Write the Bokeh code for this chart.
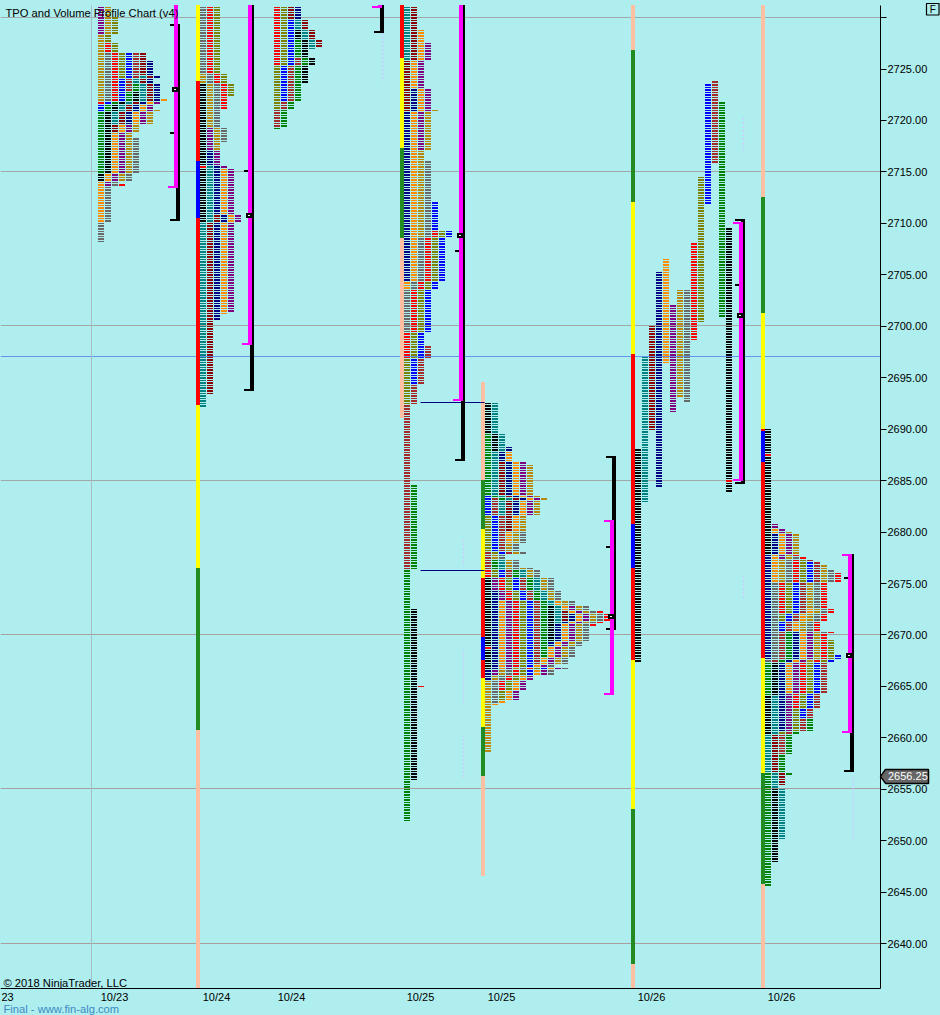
import math
from bokeh.plotting import figure
from bokeh.embed import file_html
from bokeh.resources import INLINE
from bokeh.models import ColumnDataSource, FixedTicker, Label, LinearAxis, Range1d

# ---- period letters -> colours
PERIOD_COLORS = {"K": "#000000", "T": "#008080", "R": "#8B0000", "N": "#000080", "O": "#FF8C00",
                 "P": "#800080", "G": "#B8860B", "Y": "#696969", "D": "#FF0000", "L": "#808000",
                 "B": "#0000FF", "W": "#A52A2A", "E": "#008000"}
BAR_COLORS = {"y": "#FFFF00", "r": "#FF0000", "b": "#0000FF", "g": "#228B22", "s": "#FFBFA3"}

# ---- TPO periods of every session (period, high, low)
A_PERIODS = "P G Y D L B W E K T R N O P G Y D".split()
A_HIGH = [2732, 2732, 2726.5, 2727.5, 2730, 2726.5, 2726.5, 2723.5, 2722.75, 2724.25, 2726.5, 2725.75, 2722, 2721.75, 2721, 2718.25, 2713.75]
A_LOW = [2728.5, 2722, 2722, 2721.75, 2724.25, 2721, 2723, 2715, 2714.25, 2719.75, 2719, 2719.75, 2710.25, 2713.75, 2714.25, 2708.25, 2713.75]

B_PERIODS = "K D K T R N O P G Y D L".split()
B_HIGH = [2723.5, 2715.5, 2715.25, 2715.5, 2710.75, 2717, 2715.25, 2719.25, 2724.5, 2732, 2732, 2732]
B_LOW = [2715.75, 2715.5, 2710.25, 2692.25, 2693.5, 2700.75, 2701.25, 2701.5, 2717.25, 2718, 2721.25, 2722.5]

C_PERIODS = "D L B W E K T R N".split()
C_HIGH = [2732, 2732, 2729.75, 2726, 2727.75, 2728.75, 2729.75, 2732, 2732]
C_LOW = [2725.5, 2721.25, 2722, 2719.5, 2719.25, 2723.75, 2727, 2727.25, 2730]

D_PERIODS = "T R N O P G Y D L B W E K D".split()
D_HIGH = [2732, 2732, 2723, 2728.75, 2727.5, 2721, 2716, 2709.25, 2709.25, 2712, 2698, 2684.5, 2672.5, 2665]
D_LOW = [2726, 2721, 2704.5, 2703.75, 2717.25, 2708.75, 2699.5, 2697, 2692.5, 2694.5, 2676.5, 2652, 2656, 2665]

E_PERIODS = "K D K N O P G Y D L B W E K T R N O P G Y D L B W E K T R N O P G Y".split()
E_HIGH = [2675.5, 2668.75, 2668.5, 2674.25, 2673.25, 2675.5, 2666.75, 2666.75, 2676.25, 2676.25, 2676.25, 2678, 2677.25,
          2672.75, 2677.25, 2672.25, 2672, 2673.25, 2672.75, 2676.5, 2676.5, 2672.25, 2681.5, 2683.5, 2683.25, 2689.5,
          2692.5, 2692.5, 2686.75, 2688.25, 2687.75, 2686.75, 2686.5, 2680]
E_LOW = [2669, 2668.75, 2666.75, 2665.75, 2666.75, 2666.25, 2658.75, 2663.5, 2664.75, 2663.75, 2666.25, 2667.25, 2668,
         2669.5, 2671.25, 2671.5, 2669, 2663.25, 2663.75, 2667.25, 2666.25, 2671, 2678, 2678, 2678, 2683.25,
         2688, 2681.75, 2680.25, 2681.75, 2679, 2681.75, 2676.5, 2676.5]

F_PERIODS = "K T R N O P G Y D L B W E K D K".split()
F_COLUMNS = [0, 1, 2, 3, 4, 5, 6, 7, 8, 9, 10, 11, 12, 13, 13, 13]
F_HIGH = [2688, 2697, 2700, 2705.25, 2706.5, 2702, 2703.5, 2703.5, 2708, 2714.5, 2723.5, 2723.75, 2721.75, 2709.5, 2685, 2684.75]
F_LOW = [2667.5, 2683, 2690, 2684.5, 2696.5, 2691.75, 2693.25, 2692.75, 2698.75, 2700.5, 2712, 2716, 2701, 2685.25, 2685, 2684]

G_PERIODS = "K D K N O P G Y D L B W E E K K T R N O P G Y D L B W E".split()
G_HIGH = [2690, 2687.5, 2687.25, 2679.75, 2680.25, 2680.75, 2680, 2677.5, 2677.75, 2677.25, 2677, 2677.25, 2670.25, 2656.5,
          2667.25, 2655, 2664, 2660.25, 2670.25, 2672.5, 2670.25, 2676.75, 2676.25, 2676, 2669.5, 2668, 2667.25, 2661.75]
G_LOW = [2687.75, 2687.5, 2678, 2667.75, 2675.25, 2677.5, 2675.25, 2667.5, 2672.25, 2671.5, 2670.5, 2667.5, 2664.25, 2645.75,
         2660.5, 2648, 2650.25, 2655.5, 2660.75, 2664.5, 2660.75, 2667.5, 2670.25, 2663, 2660.5, 2662, 2658.5, 2656.5]

# ---- coloured session bars: boundaries from top to bottom and the colour between them
B_BAR_EDGES = [2732, 2723.75, 2716, 2710.5, 2692.25, 2676.5, 2660.75, 2635]
B_BAR_COLORS = "y r b r y g s".split()
D_BAR_EDGES = [2732, 2726, 2717.25, 2708.5, 2691]
D_BAR_COLORS = "r y g s".split()
E_BAR_EDGES = [2694.5, 2685, 2680.25, 2675.5, 2669.75, 2667.5, 2665.75, 2661, 2656.25, 2646.5]
E_BAR_COLORS = "s g y r b r y g s".split()
F_BAR_EDGES = [2732, 2726.75, 2712, 2697.25, 2680.75, 2676.5, 2667.5, 2653, 2638, 2635]
F_BAR_COLORS = "s g y r b r y g s".split()
G_BAR_EDGES = [2732, 2712.5, 2701.25, 2690, 2689.75, 2686.75, 2667.75, 2656.5, 2645.75, 2635]
G_BAR_COLORS = "s g y r b r y g s".split()

# ---- value area / range brackets, one entry per session
VA_HIGH = [2732, 2732, 2732, 2732, 2681, 2710, 2677.75]
VA_LOW = [2713.5, 2698.25, 2731, 2692.75, 2664.25, 2685, 2660.5]
RANGE_HIGH = [2729.25, 2732, 2732, 2732, 2687.25, 2710.25, 2677.75]
RANGE_LOW = [2710.25, 2693.75, 2728.5, 2687, 2670.5, 2684.75, 2656.75]
MIDPOINT = [2718.75, 2715, None, 2707.25, 2678.5, 2704, 2675.5]
POC = [2723, 2710.75, None, 2708.75, 2671.75, 2701, 2668]

# ---- other levels
NAKED_POC = [2692.5, 2676.25]
GRID_UPPER = [2685, 2700, 2715, 2730]
GRID_LOWER = [2640, 2655, 2670]
BLUE_LEVEL = 2697
LAST_PRICE = 2656.25
AXIS_PRICES = [2640 + 5 * i for i in range(19)]
DATE_LABELS = ["23", "10/23", "10/24", "10/24", "10/25", "10/25", "10/26", "10/26"]
FAINT_HIGH = [2728.5, 2679.25, 2668.5, 2660.25, 2720.25, 2675.75, 2656.25]
FAINT_LOW = [2723.75, 2676.75, 2663.25, 2656, 2717, 2673.5, 2650]

# ---- layout (x axis is laid out in page pixels)
W, H = 940, 1015
FRAME_TOP, FRAME_BOTTOM, FRAME_RIGHT = 5, 988, 880
PX = 10.29
REF_PRICE, REF_Y = 2725.0, 68.5
FONT = "Liberation Sans"
BG = "#AFEEEE"
COL_STEP, COL_W = 7, 6
STARTS = dict(A=98, B=200, C=274, D=404, E=485, F=635, G=765)
BRACKET_RIGHT = [180, 254, 384, 465, 616, 745, 854]
DATE_X = [7, 114, 216, 291, 420, 501, 651, 781]
NAKED_X = (420, 484)
FAINT_X = [382.5, 463, 463, 463, 743, 743, 852.5]
VLINE_X = 91
SHIFT = 0.5  # the renderer offsets everything by half a pixel


def py(y):
    return REF_PRICE - (y - REF_Y) / PX


def px(price):
    return REF_Y + (REF_PRICE - price) * PX


TOP_PRICE, BOTTOM_PRICE = py(FRAME_TOP), py(FRAME_BOTTOM)


def clamp(price):
    return min(TOP_PRICE, max(BOTTOM_PRICE, price))


def snap(price):
    return py(round(px(clamp(price))) - SHIFT)


def band(price, thick):
    t = round(px(price) - thick / 2)
    return py(t - SHIFT), py(t + thick - SHIFT)


def row_band(price):
    # a row fills the pixels down to its neighbour, always leaving one pixel free
    t = round(px(price))
    n = round(px(price - 0.25))
    return py(t - SHIFT), py(max(t + 1, n - 1) - SHIFT)


p = figure(width=W, height=H, x_range=Range1d(0, W), y_range=Range1d(py(H), py(0)),
           output_backend="svg", toolbar_location=None, x_axis_location=None, y_axis_location=None,
           background_fill_color=BG, border_fill_color=BG, outline_line_color=None,
           min_border_left=0, min_border_right=0, min_border_top=0, min_border_bottom=0)
p.xgrid.visible = False
p.ygrid.visible = False

# axes, placed at fixed positions inside the page-sized frame
yax = LinearAxis(ticker=FixedTicker(ticks=AXIS_PRICES), fixed_location=FRAME_RIGHT,
                 bounds=(BOTTOM_PRICE, TOP_PRICE))
yax.major_label_overrides = {v: ("" if v == 2730 else f"{v:.2f}") for v in AXIS_PRICES}
yax.major_label_text_font = FONT
yax.major_label_text_font_size = "11px"
yax.major_label_text_color = "#000000"
yax.major_label_standoff = 1
yax.major_tick_in = 0
yax.major_tick_out = 6
yax.minor_tick_line_color = None
yax.axis_line_color = "#000000"
yax.major_tick_line_color = "#000000"
p.add_layout(yax, "right")

xax = LinearAxis(ticker=FixedTicker(ticks=DATE_X), fixed_location=py(FRAME_BOTTOM), bounds=(0, FRAME_RIGHT))
xax.major_label_overrides = dict(zip(DATE_X, DATE_LABELS))
xax.major_label_text_font = FONT
xax.major_label_text_font_size = "11px"
xax.major_label_text_color = "#000000"
xax.major_label_standoff = 2
xax.major_tick_in = 0
xax.major_tick_out = 0
xax.major_tick_line_color = None
xax.minor_tick_line_color = None
xax.axis_line_color = "#000000"
p.add_layout(xax, "below")


def hline_y(price):
    return py(math.floor(px(price)))


for prices, col in ((GRID_UPPER, "#A0A8A8"), (GRID_LOWER, "#A8A0A0")):
    ys = [hline_y(v) for v in prices]
    p.segment(x0=[0] * len(ys), x1=[FRAME_RIGHT] * len(ys), y0=ys, y1=ys, line_color=col, line_width=1, level="underlay")
p.segment(x0=[0], x1=[FRAME_RIGHT], y0=[hline_y(BLUE_LEVEL)], y1=[hline_y(BLUE_LEVEL)], line_color="#6495ED", line_width=1, level="underlay")
p.segment(x0=[VLINE_X], x1=[VLINE_X], y0=[TOP_PRICE], y1=[BOTTOM_PRICE], line_color="#A9BCC4", line_width=1, level="underlay")


def profile_rows(key, periods, highs, lows, columns=None):
    left, right, top, bottom, color = [], [], [], [], []
    used = {}
    x0 = STARTS[key] - SHIFT
    for i, (code, hi, lo) in enumerate(zip(periods, highs, lows)):
        n = int(round((hi - lo) / 0.25))
        for k in range(n + 1):
            price = hi - k * 0.25
            if columns is None:
                col = used.get(price, 0)
                used[price] = col + 1
            else:
                col = columns[i]
            t, b = row_band(price)
            if t > TOP_PRICE:
                continue
            left.append(x0 + col * COL_STEP)
            right.append(x0 + col * COL_STEP + COL_W)
            top.append(t)
            bottom.append(b)
            color.append(PERIOD_COLORS[code])
    return left, right, top, bottom, color


rows = [[], [], [], [], []]
for args in [("A", A_PERIODS, A_HIGH, A_LOW), ("B", B_PERIODS, B_HIGH, B_LOW), ("C", C_PERIODS, C_HIGH, C_LOW),
             ("D", D_PERIODS, D_HIGH, D_LOW), ("E", E_PERIODS, E_HIGH, E_LOW),
             ("F", F_PERIODS, F_HIGH, F_LOW, F_COLUMNS), ("G", G_PERIODS, G_HIGH, G_LOW)]:
    for store, part in zip(rows, profile_rows(*args)):
        store.extend(part)
src = ColumnDataSource(dict(left=rows[0], right=rows[1], top=rows[2], bottom=rows[3], color=rows[4]))
p.quad(left="left", right="right", top="top", bottom="bottom", fill_color="color", line_color=None, source=src)

# session bars
for key, edges, codes in [("B", B_BAR_EDGES, B_BAR_COLORS), ("D", D_BAR_EDGES, D_BAR_COLORS),
                          ("E", E_BAR_EDGES, E_BAR_COLORS), ("F", F_BAR_EDGES, F_BAR_COLORS),
                          ("G", G_BAR_EDGES, G_BAR_COLORS)]:
    x0 = STARTS[key] - SHIFT
    se = [snap(v) for v in edges]
    p.quad(left=[x0 - 4] * len(codes), right=[x0] * len(codes), top=se[:-1], bottom=se[1:],
           fill_color=[BAR_COLORS[c] for c in codes], line_color=None)

# faint dotted ranges
p.segment(x0=FAINT_X, x1=FAINT_X, y0=FAINT_HIGH, y1=FAINT_LOW, line_color="#C8CEFF", line_width=1.5, line_dash="2 2")

# naked POC lines
ny = [hline_y(v) for v in NAKED_POC]
p.segment(x0=[NAKED_X[0]] * 2, x1=[NAKED_X[1]] * 2, y0=ny, y1=ny, line_color="#000080", line_width=1)


def box(l, r, t, b, col):
    p.quad(left=[l - SHIFT], right=[r - SHIFT], top=[t], bottom=[b], fill_color=col, line_color=None)


# brackets
for i, xr in enumerate(BRACKET_RIGHT):
    vh, vl, rh, rl = VA_HIGH[i], VA_LOW[i], RANGE_HIGH[i], RANGE_LOW[i]
    box(xr - 4, xr, snap(rh), snap(rl), "#000000")
    for price in (rh, rl):
        if price < TOP_PRICE:
            t, b = band(price, 2)
            box(xr - 10, xr, t, b, "#000000")
    box(xr - 6, xr - 2, snap(vh), snap(vl), "#FF00FF")
    for price in (vh, vl):
        if price < TOP_PRICE:
            t, b = band(price, 2)
            box(xr - 12, xr - 2, t, b, "#FF00FF")
    if MIDPOINT[i] is not None:
        t, b = band(MIDPOINT[i], 2)
        box(xr - 10, xr - 6, t, b, "#000000")
    if POC[i] is not None:
        t, b = band(POC[i], 5)
        box(xr - 8, xr - 1, t, b, "#000000")
        t, b = band(POC[i], 1)
        box(xr - 6, xr - 4, t, b, "#FFFFFF")


# texts
def text(x, y, s, size="11px", color="#000000", **kw):
    p.add_layout(Label(x=x, y=py(y), text=s, text_font=FONT, text_font_size=size, text_color=color,
                       text_baseline="middle", **kw))


text(5, 12, "TPO and Volume Profile Chart (v4)", "11.2px")
text(3, 982, "\u00a9 2018 NinjaTrader, LLC", "11.2px")
text(3, 1008, "Final - www.fin-alg.com", "11.2px", "#3B8AC4")

# last-price tag
ty = LAST_PRICE
d = 7 / PX
p.patch(x=[880, 885, 928, 928, 885], y=[ty, ty + d, ty + d, ty - d, ty - d],
        fill_color="#666666", line_color="#000000", line_width=1.5)
text(887.5, px(ty), f"{LAST_PRICE:.2f}", "11px", "#FFFFFF")

# F button
p.patch(x=[926, 938.5, 938.5, 926], y=[py(3), py(3), py(14.5), py(14.5)], fill_alpha=0,
        line_color="#000000", line_width=1.2)
text(932.2, 9, "F", "10px", "#000000", text_align="center")

html = file_html(p, INLINE, title="TPO and Volume Profile Chart")
html = html.replace("</head>", "<style>html,body{margin:0!important;padding:0;background:#AFEEEE}</style></head>", 1)
open("out.html", "w").write(html)
